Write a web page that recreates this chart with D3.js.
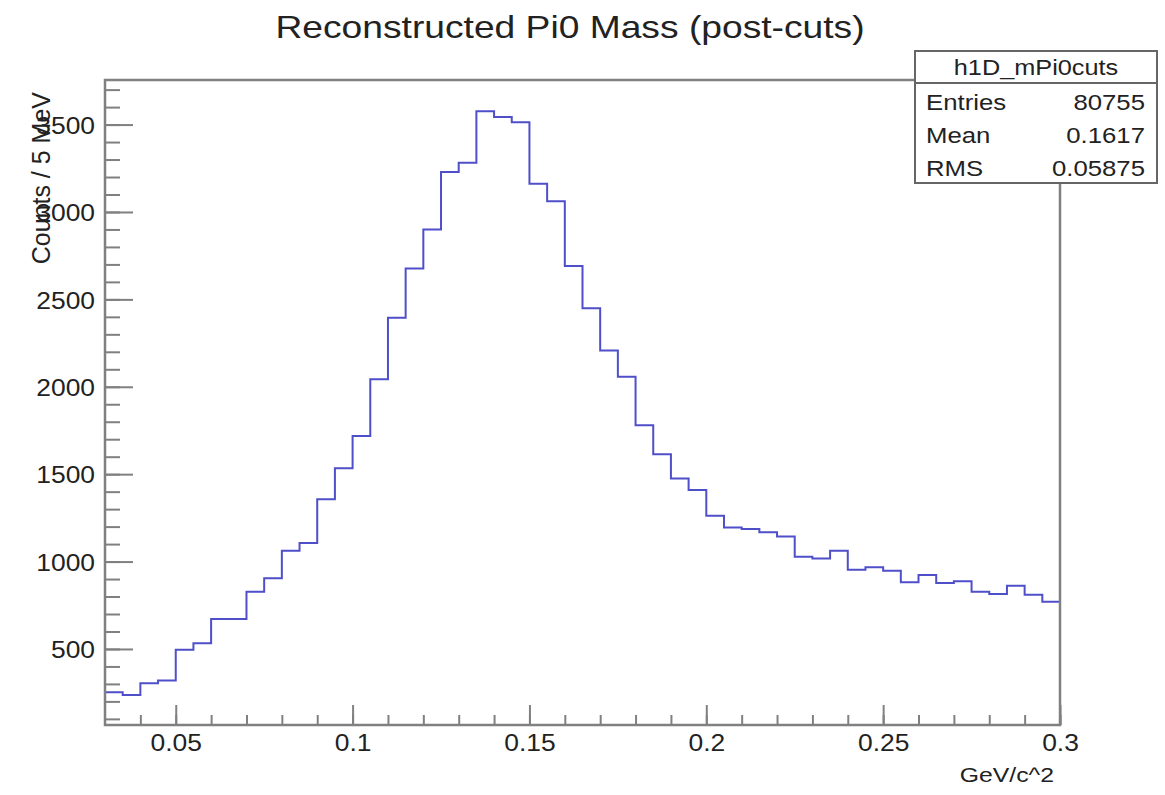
<!DOCTYPE html>
<html><head><meta charset="utf-8">
<script src="https://cdn.jsdelivr.net/npm/d3@7"></script>
<style>body{margin:0;background:#fff;} text{font-family:"Liberation Sans",Arial,sans-serif;fill:#222;}</style>
</head><body>
<svg id="c" width="1165" height="795"></svg>
<script>
const binEdgesStart = 0.03, binWidth = 0.005;
const counts = [252,237,304,319,496,532,671,671,827,904,
  1062,1106,1357,1534,1719,2043,2395,2677,2900,3229,
  3281,3576,3543,3513,3162,3061,2691,2449,2208,2057,
  1780,1614,1475,1410,1262,1195,1186,1167,1144,1028,
  1018,1062,953,967,947,881,923,877,887,827,
  814,862,810,770];
const xMajorTicks = [0.05,0.1,0.15,0.2,0.25,0.3];
const yMajorTicks = [500,1000,1500,2000,2500,3000,3500];
const statsLabels = ["Entries","Mean","RMS"];
const statsValues = ["80755","0.1617","0.05875"];
const histName = "h1D_mPi0cuts";
const titleText = "Reconstructed Pi0 Mass (post-cuts)";
const xTitle = "GeV/c^2", yTitle = "Counts / 5 MeV";

const svg = d3.select("#c");
const L=105,R=1060,T=80,B=725;
const x = d3.scaleLinear().domain([0.03,0.3]).range([L,R]);
const y = d3.scaleLinear().domain([65,3755]).range([B,T]);
const frameCol="#808080";

// stretched text helper (horizontal stretch about anchor point)
function stext(parent,px,py,str,size,sx,anchor){
  return parent.append("text").attr("transform",`translate(${px},${py}) scale(${sx},1)`)
    .attr("text-anchor",anchor||"start").attr("font-size",size).text(str);
}

// histogram path
const pts=[];
counts.forEach((c,i)=>{const x0=binEdgesStart+i*binWidth;pts.push([x0,c]);pts.push([x0+binWidth,c]);});
svg.append("path").attr("d",d3.line().x(d=>x(d[0])).y(d=>y(d[1]))(pts))
  .attr("fill","none").attr("stroke","#4f4fc9").attr("stroke-width",2);

// frame
svg.append("rect").attr("x",L).attr("y",T).attr("width",R-L).attr("height",B-T)
  .attr("fill","none").attr("stroke",frameCol).attr("stroke-width",2.5);

// x axis ticks
const xMinor=d3.range(4,31).map(v=>v/100);
const xa=d3.axisBottom(x).tickValues(xMinor).tickSize(-10).tickFormat("");
svg.append("g").attr("transform",`translate(0,${B})`).call(xa)
  .call(g=>{g.select(".domain").remove();g.selectAll("line").attr("stroke",frameCol).attr("stroke-width",2);});
const xb=d3.axisBottom(x).tickValues(xMajorTicks).tickSize(-20).tickPadding(-2).tickFormat(d=>String(d));
svg.append("g").attr("transform",`translate(0,${B})`).call(xb)
  .call(g=>{g.select(".domain").remove();g.selectAll("line").attr("stroke",frameCol).attr("stroke-width",2);
    g.selectAll("text").attr("font-size",24).attr("fill","#222").attr("dy","1.15em").attr("transform","scale(1.1,1)");});
// y axis ticks
const yMinor=d3.range(100,3800,100);
const ya=d3.axisLeft(y).tickValues(yMinor).tickSize(-15).tickFormat("");
svg.append("g").attr("transform",`translate(${L},0)`).call(ya)
  .call(g=>{g.select(".domain").remove();g.selectAll("line").attr("stroke",frameCol).attr("stroke-width",2);});
const yb=d3.axisLeft(y).tickValues(yMajorTicks).tickSize(-28).tickPadding(10).tickFormat(d=>String(d));
svg.append("g").attr("transform",`translate(${L},0)`).call(yb)
  .call(g=>{g.select(".domain").remove();g.selectAll("line").attr("stroke",frameCol).attr("stroke-width",2);
    g.selectAll("text").attr("font-size",24).attr("fill","#222").attr("dy","0.36em")
     .attr("x",null).attr("transform","translate(-10,0) scale(1.1,1)");});

// titles
stext(svg,570,38,titleText,31,1.2,"middle");
stext(svg,1054,782,xTitle,21,1.18,"end");
svg.append("text").attr("transform","translate(50,92) rotate(-90)").attr("text-anchor","end").attr("font-size",25).text(yTitle);

// stats box
const bx=915,by=51,bw=242,bh=132,hh=32;
svg.append("rect").attr("x",bx).attr("y",by).attr("width",bw).attr("height",bh).attr("fill","#fff").attr("stroke","#666").attr("stroke-width",2);
svg.append("line").attr("x1",bx).attr("x2",bx+bw).attr("y1",by+hh).attr("y2",by+hh).attr("stroke","#666").attr("stroke-width",2);
stext(svg,bx+bw/2,by+24,histName,22,1.15,"middle");
statsLabels.forEach((l,i)=>{
  const yy=by+hh+27+i*33;
  stext(svg,bx+11,yy,l,22,1.17,"start");
  stext(svg,bx+bw-12,yy,statsValues[i],22,1.17,"end");
});
</script>
</body></html>
